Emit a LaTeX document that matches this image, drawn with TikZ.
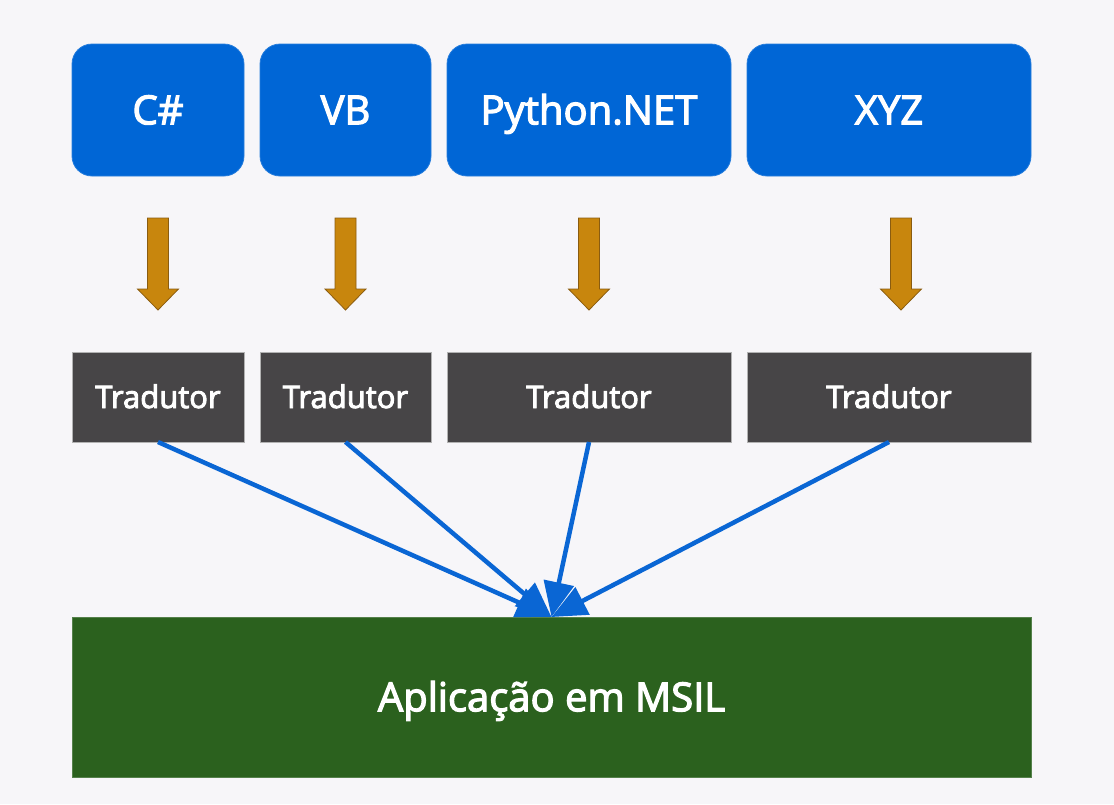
\documentclass[tikz,border=0pt]{standalone}
\usepackage{fontspec}
\setmainfont{Open Sans}
\newfontfamily\boxfont{Open Sans}[FakeBold=3]
\usepackage{tikz}
\usepackage{xcolor}
\usetikzlibrary{positioning,arrows.meta,calc}

\definecolor{bgpaper}{HTML}{F7F6F9}
\definecolor{langblue}{HTML}{0066D6}
\definecolor{tradgray}{HTML}{474547}
\definecolor{msilgreen}{HTML}{2B611E}
\definecolor{feedbrown}{HTML}{C8860D}
\definecolor{feededge}{HTML}{8A5C10}
\definecolor{linkblue}{HTML}{0A66D4}

\tikzstyle{lang} = [rectangle, rounded corners=20pt, draw=langblue!85!white, line width=0.8pt, fill=langblue, text=white, minimum height=132pt, inner sep=0pt, outer sep=0pt, text height=28.5pt, text depth=0pt, font=\boxfont\fontsize{40}{48}\selectfont]
\tikzstyle{trad} = [rectangle, draw=gray!60, line width=0.8pt, fill=tradgray, text=white, minimum height=90pt, inner sep=0pt, outer sep=0pt, text height=22pt, text depth=0pt, font=\boxfont\fontsize{31}{37}\selectfont]
\tikzstyle{msil} = [rectangle, draw=msilgreen!80!white, line width=0.8pt, fill=msilgreen, text=white, minimum width=959pt, minimum height=160pt, inner sep=0pt, outer sep=0pt, text height=28.5pt, text depth=0pt, font=\boxfont\fontsize{40}{48}\selectfont]
\tikzstyle{feed} = [draw=feededge, fill=feedbrown, line width=0.8pt, line join=miter]
\tikzstyle{link} = [->, color=linkblue, line width=4.5pt]

\begin{document}
\begin{tikzpicture}[x=1pt,y=-1pt,>={Triangle[length=35pt,width=30pt]}]
  \fill[bgpaper] (0,0) rectangle (1114,804);

  \node[lang, minimum width=172pt] (cs) at (158,110) {C\#};
  \node[lang, minimum width=171pt] (vb) [right=16pt of cs] {VB};
  \node[lang, minimum width=284pt] (py) [right=16pt of vb] {Python.NET};
  \node[lang, minimum width=284pt] (xyz) [right=16pt of py] {XYZ};

  \node[trad, minimum width=172pt] (t1) at (158,397) {Tradutor};
  \node[trad, minimum width=171pt] (t2) [right=16pt of t1] {Tradutor};
  \node[trad, minimum width=284pt] (t3) [right=16pt of t2] {Tradutor};
  \node[trad, minimum width=284pt] (t4) [right=16pt of t3] {Tradutor};

  \node[msil] (app) at (551.5,697) {Aplicação em MSIL};

  % brown arrows between the rows
  \foreach \n/\dx in {cs/0,vb/0,py/0,xyz/12}
    \path[feed] ($(\n.south)+(\dx-10.5,42)$) -- ++(0,71) -- ++(-10,0)
      -- ++(20.5,21) -- ++(20.5,-21) -- ++(-10,0) -- ++(0,-71) -- cycle;

  \foreach \t in {t1,t2,t3,t4}
    \path (\t.south) edge[link] (app.north);
\end{tikzpicture}
\end{document}
